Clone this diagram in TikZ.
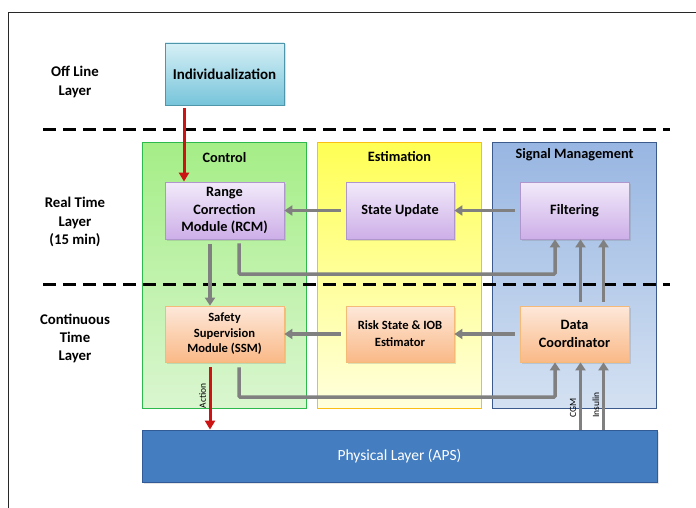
\documentclass[tikz,border=0pt]{standalone}
\usepackage{fontspec}
\setmainfont{Carlito}
\usetikzlibrary{arrows.meta,shadows}
\definecolor{gArrow}{RGB}{128,128,128}
\definecolor{rArrow}{RGB}{204,20,20}
\tikzset{
  panel/.style={draw, line width=1.3pt, minimum width=164pt, minimum height=266pt, anchor=north west},
  modbox/.style={draw, line width=0.8pt, minimum width=119pt, minimum height=57pt, align=center, font=\bfseries,
    drop shadow={opacity=0.25, shadow xshift=1.5pt, shadow yshift=-1.5pt}},
  purplebox/.style={modbox, draw={rgb,255:red,175;green,150;blue,205}, top color={rgb,255:red,242;green,234;blue,250}, bottom color={rgb,255:red,205;green,175;blue,232}},
  orangebox/.style={modbox, draw={rgb,255:red,245;green,185;blue,120}, top color={rgb,255:red,253;green,232;blue,218}, bottom color={rgb,255:red,250;green,185;blue,135}},
  layerlbl/.style={align=center, font=\fontsize{14.8}{19}\selectfont\bfseries},
  garrow/.style={draw=gArrow, line width=3.5pt, -{Triangle[length=8pt,width=10pt]}},
  rarrow/.style={draw=rArrow, line width=3pt, -{Triangle[length=9pt,width=10pt]}},
  layersep/.style={line width=3pt, dash pattern=on 13pt off 7pt},
  smalllbl/.style={font=\fontsize{9.5}{10}\selectfont, rotate=90, anchor=south, inner sep=2.5pt}
}
\begin{document}
\begin{tikzpicture}[x=1pt,y=-1pt]
\useasboundingbox[fill=white] (0,0) rectangle (696,508);
% outer frame (top and left)
\draw[line width=1.4pt, draw={rgb,255:red,40;green,40;blue,40}] (8.5,508) -- (8.5,12.5) -- (696,12.5);

% layer labels
\node[layerlbl] (offl) at (75,82) {Off Line\\Layer};
\node[layerlbl, font=\fontsize{14.8}{18.5}\selectfont\bfseries] (rtl) at (75,222) {Real Time\\Layer\\(15 min)};
\node[layerlbl, font=\fontsize{14.8}{18}\selectfont\bfseries] (ctl) at (75,338) {Continuous\\Time\\Layer};

% panels
\node[panel, draw={rgb,255:red,45;green,185;blue,75}, top color={rgb,255:red,165;green,238;blue,135}, bottom color={rgb,255:red,218;green,246;blue,208}] (pc) at (142,142) {};
\node[panel, draw={rgb,255:red,250;green,190;blue,20}, top color={rgb,255:red,255;green,255;blue,85}, bottom color={rgb,255:red,255;green,255;blue,222}] (pe) at (317,142) {};
\node[panel, draw={rgb,255:red,60;green,90;blue,140}, top color={rgb,255:red,152;green,182;blue,226}, bottom color={rgb,255:red,212;green,225;blue,242}] (ps) at (492,142) {};
\node[font=\fontsize{14.3}{16}\selectfont\bfseries] (tc) at (224.5,158) {Control};
\node[font=\fontsize{14.3}{16}\selectfont\bfseries] (te) at (399.5,157) {Estimation};
\node[font=\fontsize{14.3}{16}\selectfont\bfseries] (ts) at (574.5,155) {Signal Management};

% dashed separators
\coordinate (d1a) at (43,130); \coordinate (d1b) at (670,130);
\coordinate (d2a) at (43,284); \coordinate (d2b) at (670,284);
\draw[layersep] (d1a) -- (d1b);
\draw[layersep] (d2a) -- (d2b);

% individualization
\node[modbox, draw={rgb,255:red,80;green,150;blue,170}, top color={rgb,255:red,215;green,240;blue,246}, bottom color={rgb,255:red,118;green,196;blue,218}, font=\fontsize{15}{17}\selectfont\bfseries, minimum height=62pt] (ind) at (224.5,74) {Individualization};

% modules
\node[purplebox, font=\fontsize{14.3}{17.5}\selectfont\bfseries] (rcm) at (224.5,210.5) {Range\\Correction\\Module (RCM)};
\node[purplebox, minimum width=108pt, font=\fontsize{14.3}{16}\selectfont\bfseries] (su) at (400,210.5) {State Update};
\node[purplebox, minimum width=109pt, font=\fontsize{14.3}{16}\selectfont\bfseries] (filt) at (574.5,210.5) {Filtering};
\node[orangebox, minimum height=56pt, font=\fontsize{12.6}{15.5}\selectfont\bfseries] (ssm) at (224.5,334) {Safety\\Supervision\\Module (SSM)};
\node[orangebox, minimum width=108pt, minimum height=56pt, font=\fontsize{12.6}{17}\selectfont\bfseries] (risk) at (400,334) {Risk State \& IOB\\Estimator};
\node[orangebox, minimum width=109pt, minimum height=56pt, font=\fontsize{14.3}{18}\selectfont\bfseries] (dc) at (574.5,334) {Data\\Coordinator};

% physical layer
\node[draw={rgb,255:red,50;green,90;blue,150}, line width=0.8pt, fill={rgb,255:red,68;green,125;blue,192}, minimum width=515pt, minimum height=52pt, text=white, font=\fontsize{15.5}{18}\selectfont, drop shadow={opacity=0.2, shadow xshift=1.5pt, shadow yshift=-1.5pt}] (phys) at (399.5,456) {Physical Layer (APS)};

% red arrows
\draw[rarrow, shorten <=3pt] ([xshift=-40.5pt]ind.south) -- ([xshift=-40.5pt]rcm.north);
\draw[rarrow, shorten <=5pt] ([xshift=-14.5pt]ssm.south) -- node[smalllbl, pos=0.5] (act) {Action} ([xshift=-14.5pt]ssm.south |- phys.north);

% grey arrows, real time layer
\draw[garrow, shorten <=5pt] (filt.west) -- (su.east);
\draw[garrow, shorten <=5pt] (su.west) -- (rcm.east);
\draw[garrow, shorten <=5pt] ([xshift=-14.5pt]rcm.south) -- ([xshift=-14.5pt]ssm.north);
\coordinate (rcmturn) at (239,274);
\draw[garrow, rounded corners=1pt, shorten <=4pt] ([xshift=14.5pt]rcm.south) -- (rcmturn) -| ([xshift=-19.5pt]filt.south);
\draw[garrow, shorten <=4pt] ([xshift=6pt]dc.north) -- ([xshift=6pt]filt.south);
\draw[garrow, shorten <=4pt] ([xshift=29pt]dc.north) -- ([xshift=29pt]filt.south);

% grey arrows, continuous layer
\draw[garrow, shorten <=5pt] (dc.west) -- (risk.east);
\draw[garrow, shorten <=5pt] (risk.west) -- (ssm.east);
\coordinate (ssmturn) at (239,397);
\draw[garrow, rounded corners=1pt, shorten <=5pt] ([xshift=14.5pt]ssm.south) -- (ssmturn) -| ([xshift=-19.5pt]dc.south);
\draw[garrow] ([xshift=6pt]dc.south |- phys.north) -- node[smalllbl, pos=0.32] (cgm) {CGM} ([xshift=6pt]dc.south);
\draw[garrow] ([xshift=29pt]dc.south |- phys.north) -- node[smalllbl, pos=0.37] (ins) {Insulin} ([xshift=29pt]dc.south);
\end{tikzpicture}
\end{document}
